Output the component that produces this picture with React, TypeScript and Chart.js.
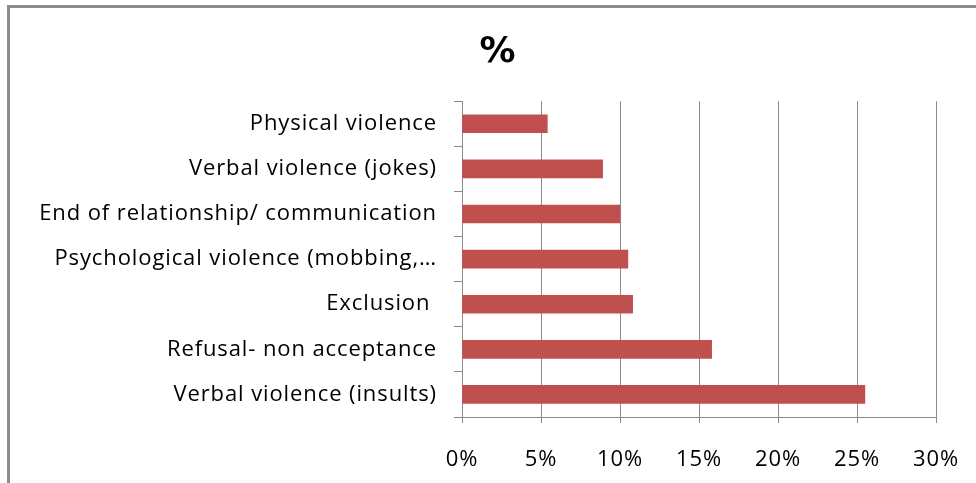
import React, { useEffect, useRef } from "react";
import { Chart, registerables } from "chart.js";

Chart.register(...registerables);

const categories = [
  "Physical violence",
  "Verbal violence (jokes)",
  "End of relationship/ communication",
  "Psychological violence (mobbing,…",
  "Exclusion ",
  "Refusal- non acceptance",
  "Verbal violence (insults)",
];
const values = [5.4, 8.9, 10.0, 10.5, 10.8, 15.8, 25.5];
const xTicks = [0, 5, 10, 15, 20, 25, 30];
const title = "%";

const FONT = "'Open Sans', Lato, sans-serif";
const GRID = "#8a8a8a";

const spacingPlugin = {
  id: "letterSpacing",
  beforeDraw(chart: any) {
    (chart.ctx as any).letterSpacing = "0.9px";
  },
  afterDraw(chart: any) {
    (chart.ctx as any).letterSpacing = "0px";
  },
};

export default function App() {
  const ref = useRef<HTMLCanvasElement>(null);
  useEffect(() => {
    if (!ref.current) return;
    const chart = new Chart(ref.current, {
      type: "bar",
      plugins: [spacingPlugin],
      data: {
        labels: categories,
        datasets: [
          {
            data: values,
            backgroundColor: "#C0504D",
            borderWidth: 0,
            barThickness: 18,
          },
        ],
      },
      options: {
        indexAxis: "y",
        animation: false,
        responsive: false,
        maintainAspectRatio: false,
        layout: { padding: 0 },
        plugins: {
          legend: { display: false },
          tooltip: { enabled: false },
          title: {
            display: true,
            text: title,
            color: "#000",
            font: { family: "'DejaVu Sans', sans-serif", size: 36, weight: "bold" },
            padding: { top: 23, bottom: 27 },
          },
        },
        scales: {
          x: {
            min: 0,
            max: 30,
            afterBuildTicks: (s: any) => {
              s.ticks = xTicks.map((v) => ({ value: v }));
            },
            afterFit: (s: any) => {
              s.height = 66;
            },
            ticks: {
              callback: (v: any) => v + "%",
              color: "#000",
              font: { family: FONT, size: 22 },
              padding: 24,
              maxRotation: 0,
              autoSkip: false,
            },
            grid: {
              color: GRID,
              lineWidth: 1,
              drawTicks: true,
              tickLength: 6,
            },
            border: { display: true, color: GRID, width: 1 },
          },
          y: {
            afterFit: (s: any) => {
              s.width = 452;
            },
            ticks: {
              color: "#000",
              font: { family: FONT, size: 22 },
              padding: 17,
              autoSkip: false,
            },
            grid: {
              drawOnChartArea: false,
              drawTicks: true,
              tickLength: 8,
              color: GRID,
              offset: true,
            },
            border: { display: true, color: GRID, width: 1 },
          },
          spacer: {
            type: "linear",
            position: "right",
            display: true,
            afterFit: (s: any) => {
              s.width = 50;
            },
            ticks: { display: false },
            grid: { display: false, drawTicks: false },
            border: { display: false },
          },
        },
      },
    });
    return () => chart.destroy();
  }, []);

  return (
    <div
      style={{
        position: "fixed",
        left: 0,
        top: 0,
        width: 976,
        height: 483,
        overflow: "hidden",
        background: "#fff",
      }}
    >
      <div
        style={{
          position: "absolute",
          left: 7,
          top: 5,
          width: 1000,
          height: 520,
          border: "3px solid #8c8c8c",
          boxSizing: "content-box",
        }}
      >
        <canvas ref={ref} width={976} height={475} style={{ display: "block" }} />
      </div>
    </div>
  );
}
